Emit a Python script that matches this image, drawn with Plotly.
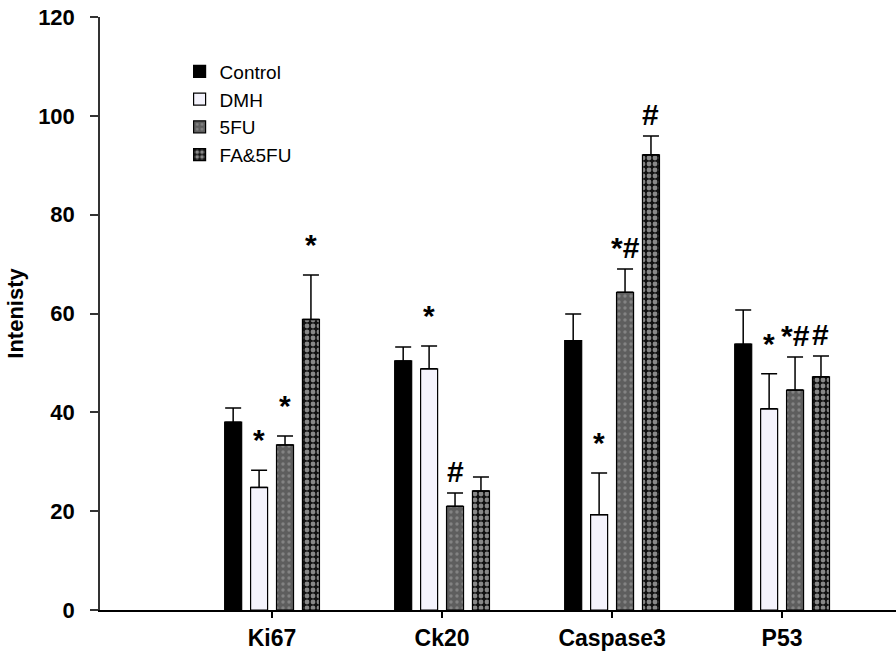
import plotly.graph_objects as go

categories = ["Ki67", "Ck20", "Caspase3", "P53"]
series_names = ["Control", "DMH", "5FU", "FA&5FU"]

control_vals = [38.0, 50.4, 54.5, 53.8]
control_err = [2.9, 2.8, 5.4, 6.9]
dmh_vals = [24.8, 48.8, 19.3, 40.7]
dmh_err = [3.5, 4.6, 8.4, 7.1]
fu_vals = [33.4, 21.0, 64.3, 44.5]
fu_err = [1.8, 2.7, 4.7, 6.7]
fa_vals = [58.8, 24.1, 92.1, 47.2]
fa_err = [9.0, 2.8, 3.8, 4.2]

control_sig = ["", "", "", ""]
dmh_sig = ["*", "*", "*", "*"]
fu_sig = ["*", "#", "*#", "*#"]
fa_sig = ["*", "", "#", "#"]

FONT = "Liberation Sans, Arial, sans-serif"

x_pos = list(range(len(categories)))

styles = [
    dict(color="#000000", pattern=None),
    dict(color="#f4f3fc", pattern=None),
    dict(color="#5e5e5e", pattern=dict(shape=".", fgcolor="#a8a8a8", bgcolor="#5e5e5e", size=6, solidity=0.25)),
    dict(color="#000000", pattern=dict(shape=".", fgcolor="#ffffff", bgcolor="#111111", size=6, solidity=0.5)),
]

all_vals = [control_vals, dmh_vals, fu_vals, fa_vals]
all_errs = [control_err, dmh_err, fu_err, fa_err]
all_sigs = [control_sig, dmh_sig, fu_sig, fa_sig]

fig = go.Figure()
for name, vals, errs, st in zip(series_names, all_vals, all_errs, styles):
    marker = dict(color=st["color"], line=dict(color="#000000", width=1.2))
    if st["pattern"]:
        marker["pattern"] = st["pattern"]
    fig.add_trace(go.Bar(
        name=name, x=x_pos, y=vals, marker=marker,
        error_y=dict(type="data", array=errs, arrayminus=[0] * len(errs), symmetric=False,
                     color="#000000", thickness=1.5, width=8),
    ))

# significance marks above bars
bargap = 0.39
groupgap = 0.344
slot = (1 - bargap) / len(series_names)
for i, (vals, errs, sigs) in enumerate(zip(all_vals, all_errs, all_sigs)):
    offset = -(1 - bargap) / 2 + slot * (i + 0.5)
    for j, s in enumerate(sigs):
        if s:
            fig.add_annotation(
                x=x_pos[j] + offset, y=vals[j] + errs[j], xref="x", yref="y",
                text="<b>" + s + "</b>", showarrow=False, yanchor="bottom",
                yshift=12 if s == "*" else 3,
                font=dict(family=FONT, size=30, color="#000000"),
            )

fig.update_layout(
    width=896, height=665,
    margin=dict(l=100, r=0, t=17, b=55),
    paper_bgcolor="white", plot_bgcolor="white",
    barmode="group", bargap=bargap, bargroupgap=groupgap,
    font=dict(family=FONT, color="#000000"),
    legend=dict(x=0.1, y=0.94, xanchor="left", yanchor="top",
                font=dict(family=FONT, size=19, color="#000000"),
                bgcolor="rgba(0,0,0,0)", tracegroupgap=0),
    showlegend=True,
)
fig.update_xaxes(
    range=[-1.012, 3.67], tickmode="array", tickvals=x_pos, ticktext=categories,
    showline=True, linecolor="#000000", linewidth=2, ticks="outside", ticklen=6,
    tickcolor="#000000", tickwidth=1.5, showgrid=False, zeroline=False, automargin=False,
    tickfont=dict(family=FONT, size=23, color="#000000", weight="bold"),
)
fig.update_yaxes(
    range=[0, 120], tickvals=[0, 20, 40, 60, 80, 100, 120],
    showline=True, linecolor="#333333", linewidth=1.5, ticks="outside", ticklen=8,
    tickcolor="#333333", tickwidth=1.5, showgrid=False, zeroline=False, automargin=False,
    ticklabelstandoff=11,
    tickfont=dict(family=FONT, size=22, color="#000000", weight="bold"),
    title=dict(text="<b>Intenisty</b>", font=dict(family=FONT, size=22, color="#000000"), standoff=8),
)

fig.write_html(
    "out.html",
    config={"displayModeBar": False},
    post_script="document.body.style.margin='0';document.body.style.overflow='hidden';",
)
